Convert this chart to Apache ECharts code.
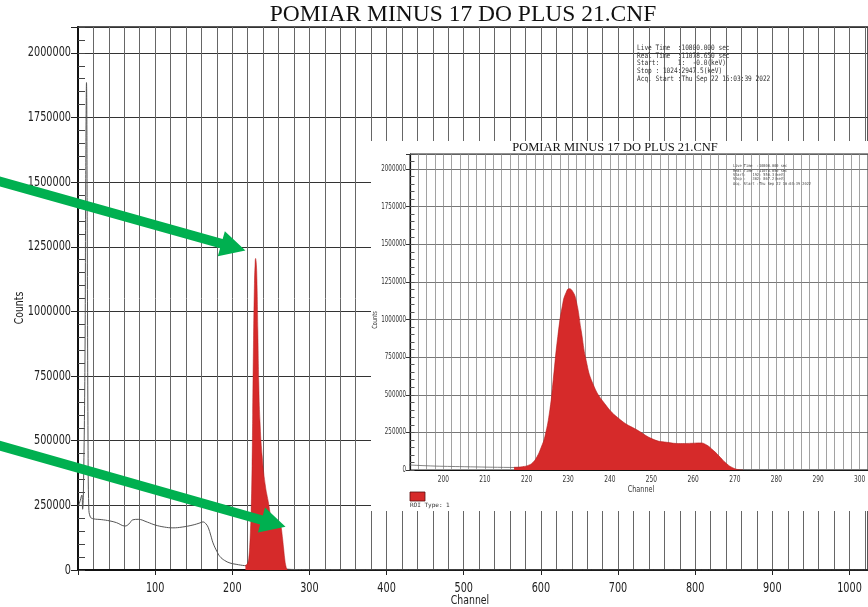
<!DOCTYPE html>
<html><head><meta charset="utf-8">
<script src="https://cdn.jsdelivr.net/npm/echarts@6/dist/echarts.min.js"></script>
<style>html,body{margin:0;padding:0;background:#fff}#c{width:868px;height:607px}</style>
</head><body><div id="c"></div>
<script>
const chartTitle = 'POMIAR MINUS 17 DO PLUS 21.CNF';
const xAxisName = 'Channel';
const yAxisName = 'Counts';
const legendLabel = 'ROI Type: 1';

// full spectrum outside the ROI (grey line)
const spectrumChannels = [1, 3, 5, 6, 7, 9, 10, 11, 12, 13, 14, 16, 20, 30, 41, 50, 61, 66, 71, 78, 90, 100, 112, 123, 135, 149, 158, 162, 166, 169, 172, 175, 180, 184, 190, 197, 205, 216, 272, 280, 300, 400, 600, 800, 1024];
const spectrumCounts   = [250000, 270000, 290000, 235000, 300000, 800000, 1500000, 1885000, 1300000, 500000, 240000, 205000, 198000, 195000, 190000, 183000, 170000, 178000, 194000, 196000, 185000, 174000, 166000, 163000, 166000, 174000, 182000, 186000, 178000, 163000, 135000, 105000, 72000, 52000, 37000, 27000, 22000, 17000, 3000, 2000, 1500, 900, 500, 300, 100];

// ROI (red filled peak)
const roiChannels = [217, 219, 220.5, 221.5, 222.5, 223.5, 224.4, 225.6, 226.4, 227.5, 228.7, 229.5, 230.2, 231, 231.9, 233.1, 234.3, 235.9, 238.7, 242.6, 246.6, 250.6, 253.7, 257, 260, 261.5, 263, 264.9, 266.5, 268, 269.5, 271, 272];
const roiCounts   = [18000, 22000, 32000, 50000, 88000, 150000, 223000, 401000, 600000, 887000, 1108000, 1180000, 1205000, 1190000, 1127000, 928000, 729000, 575000, 443000, 332000, 265000, 202000, 184000, 176000, 178000, 180000, 170000, 129000, 85000, 43000, 15000, 2000, 0];

// axis ranges and tick labels
const mainXRange = [0, 1024];
const insetXRange = [192, 302];
const yRange = [0, 2100000];
const yTickLabels = [0, 250000, 500000, 750000, 1000000, 1250000, 1500000, 1750000, 2000000];
const mainXTickLabels = [100, 200, 300, 400, 500, 600, 700, 800, 900, 1000];
const insetXTickLabels = [200, 210, 220, 230, 240, 250, 260, 270, 280, 290, 300];

const infoMain = [
  'Live Time  :10800.000 sec',
  'Real Time  :11078.650 sec',
  'Start:     1:  -0.0(keV)',
  'Stop : 1024:2947.5(keV)',
  'Acq. Start :Thu Sep 22 16:03:39 2022'
];
const infoInset = [
  'Live Time  :10800.000 sec',
  'Real Time  :11078.650 sec',
  'Start:   192: 550.3(keV)',
  'Stop :   302: 867.2(keV)',
  'Acq. Start :Thu Sep 22 16:03:39 2022'
];

// annotation arrows (start, tip) in main-chart data coordinates
const arrowStarts = [[-108, 1508000], [-108, 486000]];
const arrowTips   = [[217, 1236000], [269, 167000]];

const COND = "'DejaVu Sans Condensed','Liberation Sans',sans-serif";
const SERIF = "'Liberation Serif','DejaVu Serif',serif";
const MONO = "'DejaVu Sans Mono','Liberation Mono',monospace";
const RED = '#d62a2a';
const SQUASH = 0.77;

const zip = (a, b) => a.map((v, i) => [v, b[i]]);
const spectrumData = zip(spectrumChannels, spectrumCounts);
const roiData = zip(roiChannels, roiCounts);

const option = {
  animation: false,
  backgroundColor: '#fff',
  grid: [
    {left: 78, top: 27, width: 791, height: 543, show: true, borderColor: '#222', borderWidth: 1.5, backgroundColor: 'transparent', z: 0},
    {left: 410, top: 154, width: 466, height: 316, show: true, borderColor: '#222', borderWidth: 1, backgroundColor: 'transparent', z: 5}
  ],
  xAxis: [
    {type: 'value', gridIndex: 0, position: 'bottom', min: mainXRange[0], max: mainXRange[1], interval: 20,
     axisLine: {lineStyle: {color: '#111', width: 2}}, axisTick: {show: false}, axisLabel: {show: false},
     splitLine: {show: true, lineStyle: {color: '#666', width: 1}}, z: 0},
    {type: 'value', gridIndex: 0, position: 'bottom', min: mainXRange[0], max: mainXRange[1], interval: 100,
     axisLine: {show: false}, axisTick: {show: true, length: 5, lineStyle: {color: '#222'}},
     axisLabel: {show: false}, splitLine: {show: false}, z: 0},
    {type: 'value', gridIndex: 1, position: 'bottom', min: insetXRange[0], max: insetXRange[1], interval: 2,
     axisLine: {lineStyle: {color: '#111', width: 1.2}}, axisTick: {show: false}, axisLabel: {show: false},
     splitLine: {show: true, lineStyle: {color: '#8a8a8a', width: 0.8}}, z: 5}
  ],
  yAxis: [
    {type: 'value', gridIndex: 0, position: 'left', min: yRange[0], max: yRange[1], interval: 250000,
     axisLine: {lineStyle: {color: '#111', width: 2}}, axisTick: {show: true, length: 7, lineStyle: {color: '#222'}},
     axisLabel: {show: false}, splitLine: {show: true, lineStyle: {color: '#333', width: 1}}, z: 0},
    {type: 'value', gridIndex: 0, position: 'left', min: yRange[0], max: yRange[1], interval: 50000,
     axisLine: {show: false}, axisTick: {show: true, inside: true, length: 7, lineStyle: {color: '#444'}},
     axisLabel: {show: false}, splitLine: {show: false}, z: 0},
    {type: 'value', gridIndex: 1, position: 'left', min: yRange[0], max: yRange[1], interval: 250000,
     axisLine: {lineStyle: {color: '#111', width: 1.2}}, axisTick: {show: true, length: 4, lineStyle: {color: '#333'}},
     axisLabel: {show: false}, splitLine: {show: true, lineStyle: {color: '#555', width: 0.8}}, z: 5},
    {type: 'value', gridIndex: 1, position: 'left', min: yRange[0], max: yRange[1], interval: 50000,
     axisLine: {show: false}, axisTick: {show: true, inside: true, length: 4.5, lineStyle: {color: '#555'}},
     axisLabel: {show: false}, splitLine: {show: false}, z: 5}
  ],
  series: [
    {type: 'line', xAxisIndex: 0, yAxisIndex: 0, data: spectrumData, showSymbol: false, smooth: 0.4,
     lineStyle: {color: '#555', width: 1}, z: 2},
    {type: 'line', xAxisIndex: 0, yAxisIndex: 0, data: roiData, showSymbol: false, smooth: 0.5,
     lineStyle: {color: '#b51e1e', width: 0.5}, areaStyle: {color: RED, opacity: 1}, z: 3},
    {type: 'line', xAxisIndex: 2, yAxisIndex: 2, data: spectrumData, showSymbol: false, smooth: 0.4,
     lineStyle: {color: '#666', width: 0.8}, z: 6},
    {type: 'line', xAxisIndex: 2, yAxisIndex: 2, data: roiData, showSymbol: false, smooth: 0.5,
     lineStyle: {color: '#b51e1e', width: 0.6}, areaStyle: {color: RED, opacity: 1}, z: 7}
  ]
};

const centered = {align: 'center', verticalAlign: 'middle', textAlign: 'center', textVerticalAlign: 'middle'};
const baseGraphic = [
  {type: 'rect', z: 4, shape: {x: 371, y: 141, width: 497, height: 370}, style: {fill: '#fff'}},
  {type: 'text', z: 8, x: 463, y: 15, style: Object.assign({text: chartTitle, font: '23.5px ' + SERIF, fill: '#111'}, centered)},
  {type: 'text', z: 8, x: 615, y: 148, style: Object.assign({text: chartTitle, font: '12.5px ' + SERIF, fill: '#111'}, centered)},
  {type: 'text', z: 1, x: 637, y: 44, scaleX: 0.82, style: {text: infoMain.join('\n'), font: '7.5px ' + MONO, fill: '#333', lineHeight: 7.7, verticalAlign: 'top', textVerticalAlign: 'top'}},
  {type: 'text', z: 8, x: 733, y: 164, scaleX: 0.9, style: {text: infoInset.join('\n'), font: '4px ' + MONO, fill: '#444', lineHeight: 4.4, verticalAlign: 'top', textVerticalAlign: 'top'}},
  {type: 'text', z: 8, x: 20, y: 308, rotation: Math.PI / 2, scaleX: 0.8, style: Object.assign({text: yAxisName, font: '13px ' + COND, fill: '#222'}, centered)},
  {type: 'text', z: 8, x: 470, y: 601, scaleX: 0.8, style: Object.assign({text: xAxisName, font: '13px ' + COND, fill: '#222'}, centered)},
  {type: 'text', z: 8, x: 375.5, y: 320, rotation: Math.PI / 2, scaleX: 0.8, style: Object.assign({text: yAxisName, font: '7px ' + COND, fill: '#333'}, centered)},
  {type: 'text', z: 8, x: 641, y: 490, scaleX: 0.8, style: Object.assign({text: xAxisName, font: '9px ' + COND, fill: '#333'}, centered)},
  {type: 'rect', z: 8, shape: {x: 410, y: 492, width: 15, height: 9}, style: {fill: RED, stroke: '#5a1010', lineWidth: 0.8}},
  {type: 'text', z: 8, x: 410, y: 502.5, style: {text: legendLabel, font: '6px ' + MONO, fill: '#333', verticalAlign: 'top', textVerticalAlign: 'top'}}
];

const chart = echarts.init(document.getElementById('c'), null, {renderer: 'canvas'});
option.graphic = {elements: baseGraphic};
chart.setOption(option);

// tick labels placed through the axes' own scales (narrow, condensed look)
const labels = [];
yTickLabels.forEach(v => {
  labels.push({type: 'text', z: 8, x: 71, y: chart.convertToPixel({yAxisIndex: 0}, v), scaleX: SQUASH,
    style: {text: String(v), font: '14px ' + COND, fill: '#222', align: 'right', verticalAlign: 'middle', textAlign: 'right', textVerticalAlign: 'middle'}});
  labels.push({type: 'text', z: 8, x: 406, y: chart.convertToPixel({yAxisIndex: 2}, v), scaleX: SQUASH,
    style: {text: String(v), font: '8px ' + COND, fill: '#333', align: 'right', verticalAlign: 'middle', textAlign: 'right', textVerticalAlign: 'middle'}});
});
mainXTickLabels.forEach(v => {
  labels.push({type: 'text', z: 8, x: chart.convertToPixel({xAxisIndex: 0}, v), y: 588, scaleX: SQUASH,
    style: Object.assign({text: String(v), font: '14px ' + COND, fill: '#222'}, centered)});
});
insetXTickLabels.forEach(v => {
  labels.push({type: 'text', z: 8, x: chart.convertToPixel({xAxisIndex: 2}, v), y: 480, scaleX: SQUASH,
    style: Object.assign({text: String(v), font: '8.5px ' + COND, fill: '#333'}, centered)});
});

const arrows = arrowTips.map((tip, i) => {
  const s = chart.convertToPixel({xAxisIndex: 0, yAxisIndex: 0}, arrowStarts[i]);
  const t = chart.convertToPixel({xAxisIndex: 0, yAxisIndex: 0}, tip);
  const dx = t[0] - s[0], dy = t[1] - s[1], len = Math.hypot(dx, dy);
  const ux = dx / len, uy = dy / len, nx = -uy, ny = ux;
  const L = 25, hw = 13, sw = 4.8;
  const bx = t[0] - ux * L, by = t[1] - uy * L;
  return {type: 'polygon', z: 20, shape: {points: [
    [s[0] + nx * sw, s[1] + ny * sw], [bx + nx * sw, by + ny * sw], [bx + nx * hw, by + ny * hw],
    [t[0], t[1]], [bx - nx * hw, by - ny * hw], [bx - nx * sw, by - ny * sw], [s[0] - nx * sw, s[1] - ny * sw]
  ]}, style: {fill: '#00b050'}};
});
chart.setOption({graphic: {elements: baseGraphic.concat(labels, arrows)}});
</script>
</body></html>
